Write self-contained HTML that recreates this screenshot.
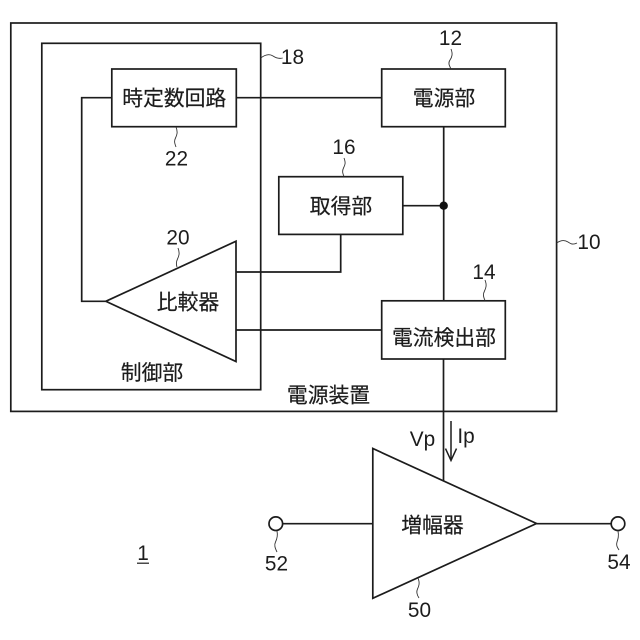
<!DOCTYPE html>
<html>
<head>
<meta charset="utf-8">
<style>
html,body{margin:0;padding:0;background:#fff;}
svg{display:block;}
text{fill:#1c1c1c;font-family:"Liberation Sans","Noto Sans CJK JP",sans-serif;}
.j{font-size:20.8px;text-anchor:middle;stroke:#1c1c1c;stroke-width:0.2px;}
.n{font-size:20.8px;text-anchor:middle;}
</style>
</head>
<body>
<svg width="640" height="640" viewBox="0 0 640 640" xmlns="http://www.w3.org/2000/svg">
<rect width="640" height="640" fill="#fff"/>
<g fill="none" stroke="#1c1c1c" stroke-width="1.7">
<rect x="10.8" y="23" width="545.8" height="388.4"/>
<rect x="41.8" y="43.3" width="218.9" height="346.4"/>
<rect x="111.8" y="69" width="124.5" height="57.7"/>
<rect x="381.7" y="69" width="123.6" height="57.7"/>
<rect x="278.8" y="176.7" width="124" height="57.7"/>
<rect x="381.7" y="300.8" width="123.6" height="58.2"/>
<path d="M105.8 301.3L236 241.2V361.5Z"/>
<path d="M372.8 448.5V598.3L536.5 523.5Z"/>
<path d="M111.8 97.7H81.7V301.3H105.8"/>
<path d="M236.3 97.7H381.7"/>
<path d="M443.7 126.7V300.8"/>
<path d="M402.8 205.7H443.7"/>
<path d="M340.7 234.4V272H236"/>
<path d="M236 330H381.7"/>
<path d="M443.5 359V480.5"/>
<path d="M282.7 523.7H372.8"/>
<path d="M536.5 523.7H611"/>
<circle cx="275.8" cy="523.7" r="6.8"/>
<circle cx="618" cy="523.7" r="6.8"/>
<path d="M451 421V460" stroke-width="1.5"/>
<path d="M445.5 448.5L451 460.5L456.5 448.5" stroke-width="1.5"/>
</g>
<circle cx="443.7" cy="205.7" r="4.2" fill="#111"/>
<g fill="none" stroke="#333" stroke-width="0.9">
<path d="M260.7 58C266 54 270 54 273 56S279 59 282.7 58"/>
<path d="M451 49C453 54 452 57 450 60S449 65 451 69"/>
<path d="M344 158C346 163 345 165 343.5 168S342.5 173 344 176.5"/>
<path d="M176 127C178 132 177 135 175.5 138S174.5 143 176 147"/>
<path d="M178 248C180 253 179 256 177.5 259S176 264 177 267"/>
<path d="M485 280C487 285 486 288 484.5 291S483 296 485 300.5"/>
<path d="M556.6 243C561 240 565 240 568 242S573 245 577 243"/>
<path d="M277 531C278 536 277 539 275.5 542S275 548 277 552"/>
<path d="M618 531C619 536 618 539 617 542S617 547 619 550"/>
<path d="M418 578C420 583 419 586 417.5 589S417 595 419 598"/>
</g>
<text class="j" x="174.3" y="105.5">時定数回路</text>
<text class="j" x="444" y="105.5">電源部</text>
<text class="j" x="341" y="213.5">取得部</text>
<text class="j" x="188" y="309.5">比較器</text>
<text class="j" x="152" y="380">制御部</text>
<text class="j" x="444" y="345">電流検出部</text>
<text class="j" x="328.5" y="402.5">電源装置</text>
<text class="j" x="432.5" y="532.5">増幅器</text>
<text class="n" x="292.5" y="64">18</text>
<text class="n" x="176.5" y="165.5">22</text>
<text class="n" x="450.5" y="45">12</text>
<text class="n" x="344" y="154">16</text>
<text class="n" x="178" y="244.5">20</text>
<text class="n" x="484" y="279">14</text>
<text class="n" x="589" y="249">10</text>
<text class="n" x="276.5" y="570.5">52</text>
<text class="n" x="619" y="569">54</text>
<text class="n" x="419.5" y="617">50</text>
<text class="n" x="143" y="560">1</text>
<path d="M137 563.2H149" stroke="#1c1c1c" stroke-width="1.2"/>
<text class="n" x="422.5" y="446">Vp</text>
<text class="n" x="466" y="443">Ip</text>
</svg>
</body>
</html>
